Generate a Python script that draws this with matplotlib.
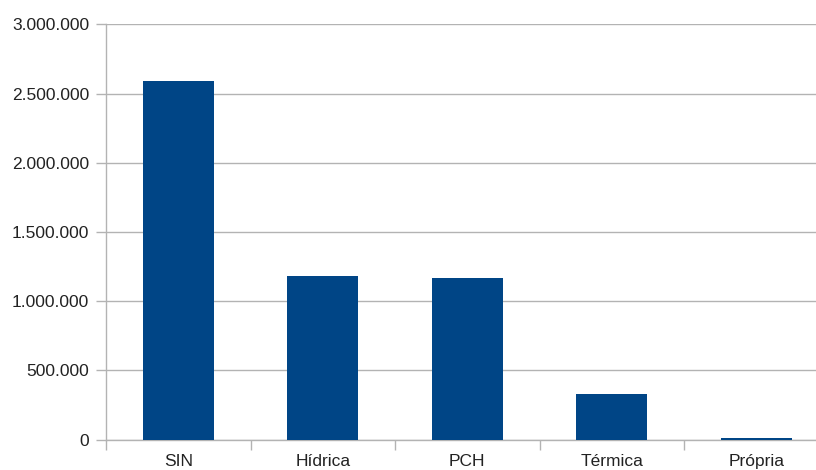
import matplotlib as mpl
mpl.use('Agg')
from matplotlib import pyplot as plt
from matplotlib.ticker import FuncFormatter, FixedLocator

categorias = ['SIN', 'Hídrica', 'PCH', 'Térmica', 'Própria']
valores = [2594000, 1182000, 1170000, 330000, 14000]
yticks = [0, 500000, 1000000, 1500000, 2000000, 2500000, 3000000]

plt.rcParams['font.family'] = ['Liberation Sans', 'DejaVu Sans']

cinza = '#b3b3b3'
fig = plt.figure(figsize=(8.16, 4.70), dpi=100, facecolor='w')
ax = fig.add_axes([106/816, 30.3/470, 722.5/816, 415.4/470])

x = list(range(len(categorias)))
ax.bar(x, valores, width=0.49, color='#004586', zorder=3)

ax.set_xlim(-0.5, len(categorias) - 0.5)
ax.set_ylim(0, 3000000)
ax.set_yticks(yticks)
ax.yaxis.set_major_formatter(FuncFormatter(lambda v, p: f'{int(v):,}'.replace(',', '.')))
ax.yaxis.grid(True, color=cinza, linewidth=1, zorder=0)

ax.set_xticks(x)
ax.set_xticklabels(categorias)
ax.xaxis.set_minor_locator(FixedLocator([i - 0.5 for i in range(len(categorias) + 1)]))
ax.tick_params(axis='x', which='major', length=0, pad=10, labelsize=12.5, labelcolor='#222222')
ax.tick_params(axis='x', which='minor', length=7, color=cinza, width=1)
ax.tick_params(axis='y', length=7, color=cinza, width=1, pad=5, labelsize=12.5, labelcolor='#222222')

[ax.spines[loc].set_visible(False) for loc in ['top', 'right']]
for loc in ['left', 'bottom']:
    ax.spines[loc].set_color(cinza)
    ax.spines[loc].set_linewidth(1)

fig.savefig('out.png', dpi=100, facecolor='w')
